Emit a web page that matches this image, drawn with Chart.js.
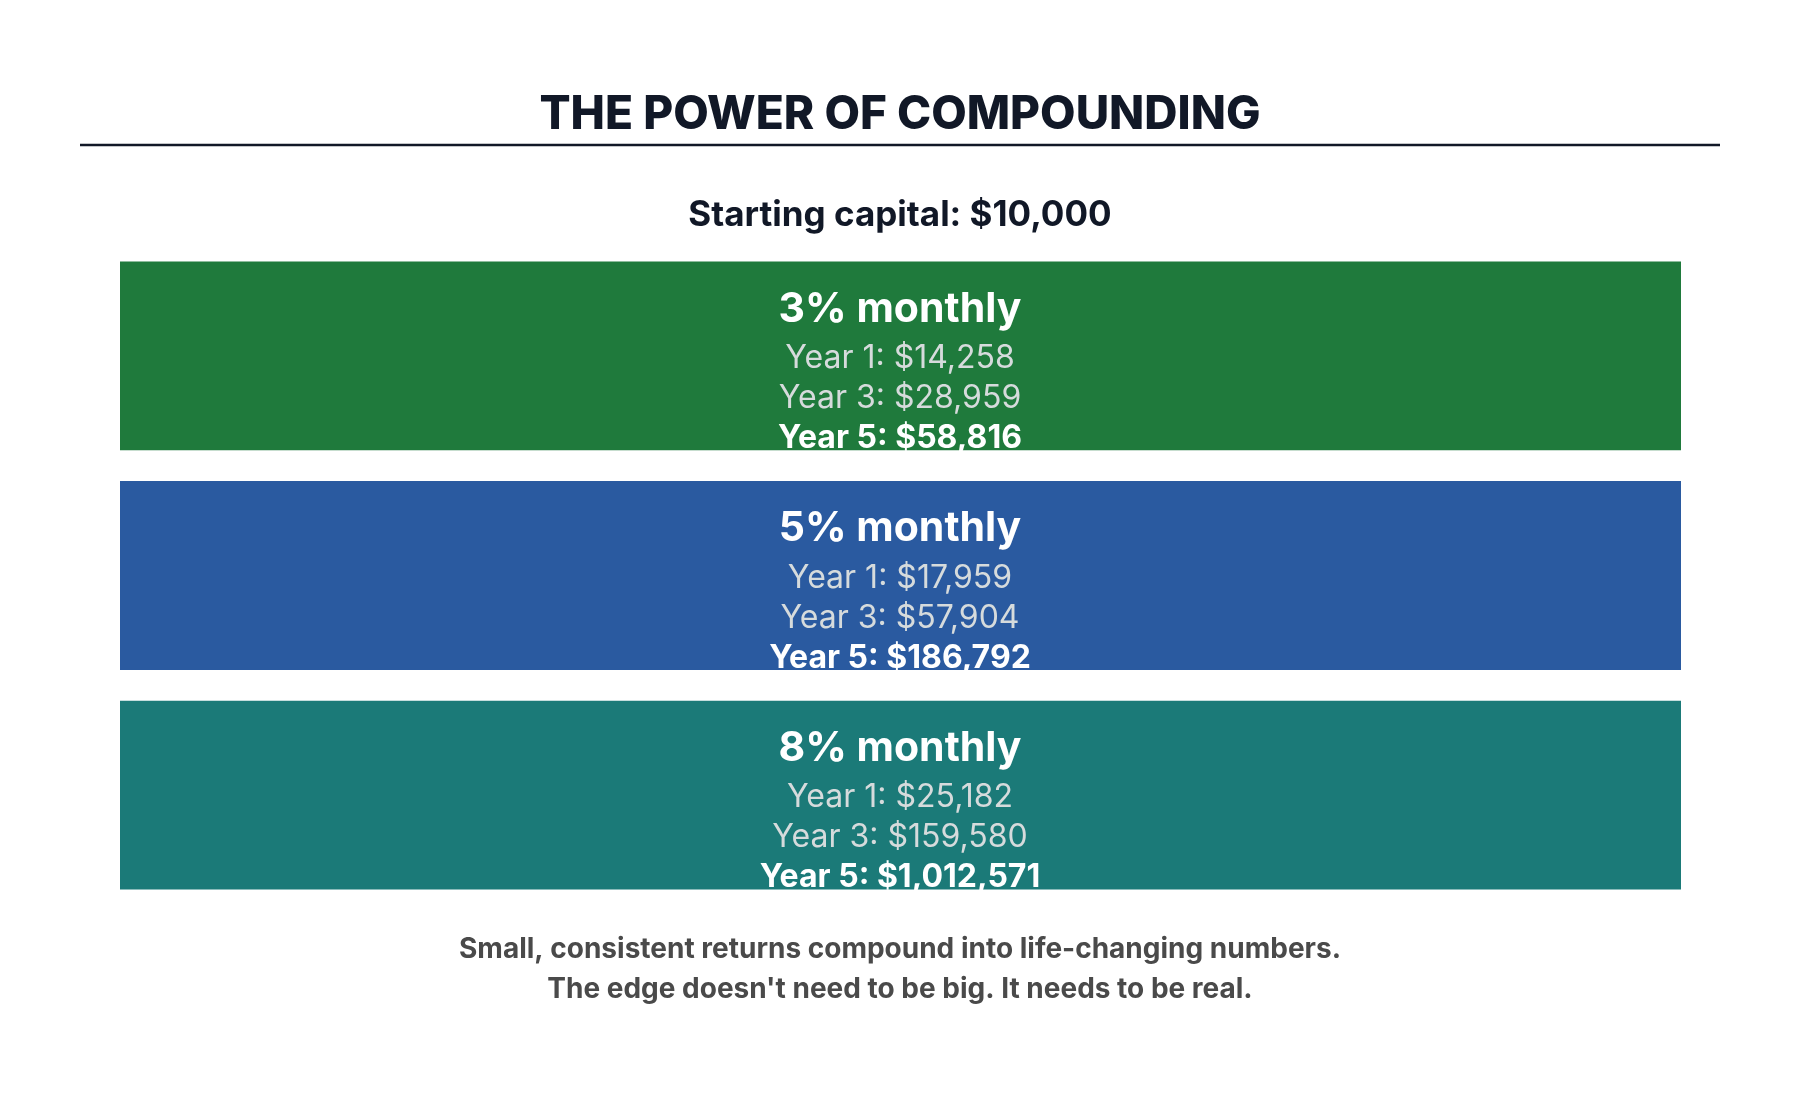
<!DOCTYPE html>
<html>
<head>
<meta charset="utf-8">
<script src="https://cdn.jsdelivr.net/npm/chart.js@4"></script>
<style>
  body { margin: 0; background: #ffffff; }
  canvas { display: block; }
</style>
</head>
<body>
<canvas id="chart" width="1800" height="1100"></canvas>
<script>
const labels = ["3% monthly", "5% monthly", "8% monthly"];
const year1 = [14258, 17959, 25182];
const year3 = [28959, 57904, 159580];
const year5 = [58816, 186792, 1012571];
const colors = ["#1f7a3c", "#2a5aa0", "#1b7a78"];

const FONT = "Inter, 'Open Sans', sans-serif";
const money = (v) => "$" + v.toLocaleString("en-US");

// titles, rule line, footer and the text inside each box
const textPlugin = {
  id: "texts",
  afterDatasetsDraw(chart) {
    const ctx = chart.ctx;
    const cx = 900;
    ctx.save();
    ctx.textAlign = "center";
    ctx.textBaseline = "middle";

    ctx.fillStyle = "#111827";
    ctx.font = "800 46px " + FONT;
    ctx.fillText("THE POWER OF COMPOUNDING", cx, 115);
    ctx.strokeStyle = "#111827";
    ctx.lineWidth = 2.5;
    ctx.beginPath();
    ctx.moveTo(80, 145);
    ctx.lineTo(1720, 145);
    ctx.stroke();

    ctx.font = "700 35px " + FONT;
    ctx.fillText("Starting capital: $10,000", cx, 215);

    const meta = chart.getDatasetMeta(0);
    meta.data.forEach((bar, i) => {
      const top = bar.y - bar.height / 2;
      ctx.fillStyle = "#ffffff";
      ctx.font = "700 41px " + FONT;
      ctx.fillText(labels[i], cx, top + 48);
      ctx.fillStyle = "#d6dbdc";
      ctx.font = "400 32px " + FONT;
      ctx.fillText("Year 1: " + money(year1[i]), cx, top + 97);
      ctx.fillText("Year 3: " + money(year3[i]), cx, top + 137);
      ctx.fillStyle = "#ffffff";
      ctx.font = "700 32px " + FONT;
      ctx.fillText("Year 5: " + money(year5[i]), cx, top + 177);
    });

    ctx.fillStyle = "#4a4a4a";
    ctx.font = "700 28px " + FONT;
    ctx.fillText("Small, consistent returns compound into life-changing numbers.", cx, 950);
    ctx.fillText("The edge doesn't need to be big. It needs to be real.", cx, 990);
    ctx.restore();
  }
};

new Chart(document.getElementById("chart").getContext("2d"), {
  type: "bar",
  data: {
    labels,
    datasets: [{
      data: labels.map(() => 1),
      backgroundColor: colors,
      borderWidth: 0,
      barPercentage: 1,
      categoryPercentage: 0.86
    }]
  },
  options: {
    indexAxis: "y",
    responsive: false,
    animation: false,
    layout: { padding: { left: 120, right: 119, top: 246, bottom: 195 } },
    scales: {
      x: { display: false, min: 0, max: 1 },
      y: { display: false }
    },
    plugins: {
      legend: { display: false },
      tooltip: { enabled: false }
    }
  },
  plugins: [textPlugin]
});
</script>
</body>
</html>
